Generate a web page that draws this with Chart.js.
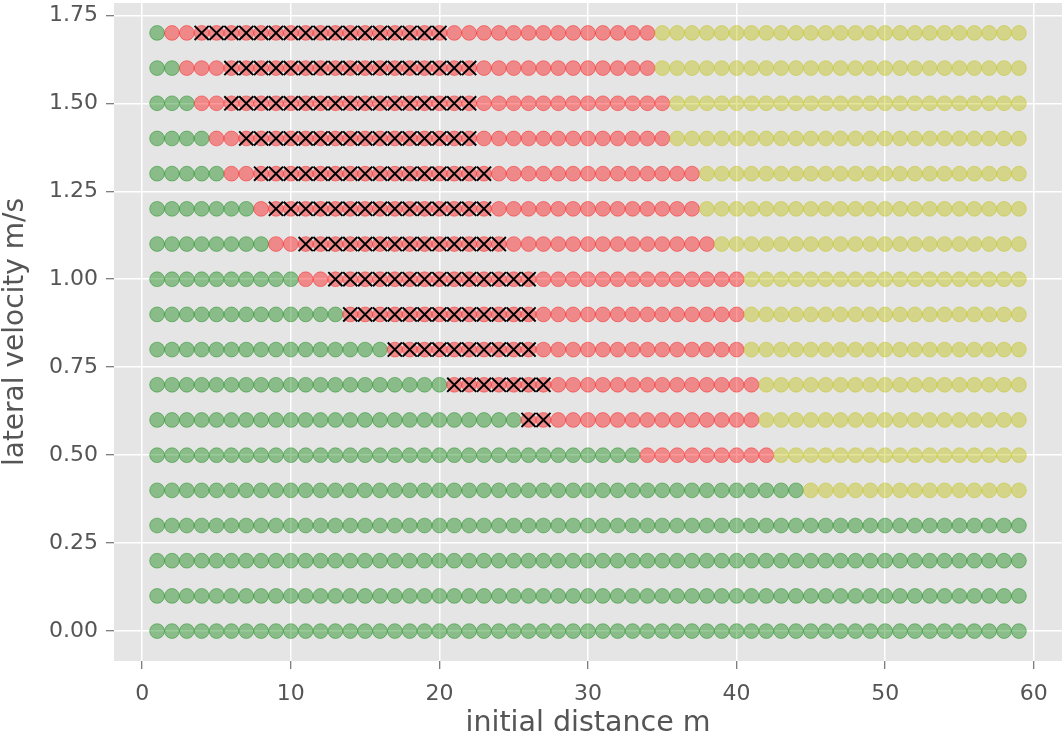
<!DOCTYPE html>
<html>
<head>
<meta charset="utf-8">
<script src="https://cdn.jsdelivr.net/npm/chart.js@4/dist/chart.umd.min.js"></script>
<style>
  html, body { margin: 0; padding: 0; background: #ffffff; }
  #wrap { width: 1062px; height: 738px; }
</style>
</head>
<body>
<div id="wrap"><canvas id="chart" width="1062" height="738"></canvas></div>
<script>
// initial distances (x) and lateral velocity rows (y)
const distances = [1, 2, 3, 4, 5, 6, 7, 8, 9, 10, 11, 12, 13, 14, 15, 16, 17, 18, 19, 20,
  21, 22, 23, 24, 25, 26, 27, 28, 29, 30, 31, 32, 33, 34, 35, 36, 37, 38, 39, 40,
  41, 42, 43, 44, 45, 46, 47, 48, 49, 50, 51, 52, 53, 54, 55, 56, 57, 58, 59];
const velocities = [0.0, 0.1, 0.2, 0.3, 0.4, 0.5, 0.6, 0.7, 0.8, 0.9, 1.0, 1.1, 1.2, 1.3, 1.4, 1.5, 1.6, 1.7];

// per velocity row: last green distance, last red distance (yellow after), crossed range
const greenEnd = [59, 59, 59, 59, 44, 33, 25, 20, 16, 13, 10, 8, 7, 5, 4, 3, 2, 1];
const redEnd = [59, 59, 59, 59, 44, 42, 41, 41, 40, 40, 40, 38, 37, 37, 35, 35, 34, 34];
const crossStart = [0, 0, 0, 0, 0, 0, 26, 21, 17, 14, 13, 11, 9, 8, 7, 6, 6, 4];
const crossEnd = [0, 0, 0, 0, 0, 0, 27, 27, 26, 26, 26, 24, 23, 23, 22, 22, 22, 20];

// axis ticks
const xTicks = [0, 10, 20, 30, 40, 50, 60];
const yTicks = [0, 0.25, 0.5, 0.75, 1.0, 1.25, 1.5, 1.75];

const greenPts = [];
const redPts = [];
const yellowPts = [];
const crossPts = [];

velocities.forEach((v, i) => {
  distances.forEach(d => {
    const p = { x: d, y: v };
    if (d <= greenEnd[i]) {
      greenPts.push(p);
    } else if (d <= redEnd[i]) {
      redPts.push(p);
    } else {
      yellowPts.push(p);
    }
    if (crossStart[i] > 0 && d >= crossStart[i] && d <= crossEnd[i]) {
      crossPts.push(p);
    }
  });
});

function dotSet(data, color, order) {
  return {
    data: data,
    backgroundColor: color,
    borderColor: color,
    borderWidth: 1,
    pointRadius: 7.4,
    pointHoverRadius: 7.4,
    order: order
  };
}

const textColor = '#555555';
const fontFamily = '"DejaVu Sans", sans-serif';

// drop the extra room Chart.js keeps for overflowing tick labels
function noLabelPadding(scale) {
  scale.paddingTop = 0;
  scale.paddingBottom = 0;
  scale.paddingLeft = 0;
  scale.paddingRight = 0;
}

new Chart(document.getElementById('chart').getContext('2d'), {
  type: 'scatter',
  data: {
    datasets: [
      {
        data: crossPts,
        pointStyle: 'crossRot',
        pointRadius: 10,
        pointHoverRadius: 10,
        borderColor: '#000000',
        backgroundColor: '#000000',
        borderWidth: 2,
        order: 0
      },
      dotSet(yellowPts, 'rgba(191, 191, 0, 0.4)', 1),
      dotSet(redPts, 'rgba(255, 0, 0, 0.4)', 2),
      dotSet(greenPts, 'rgba(0, 128, 0, 0.4)', 3)
    ]
  },
  options: {
    responsive: false,
    animation: false,
    events: [],
    layout: { autoPadding: false, padding: { top: 3, right: 0, bottom: 0, left: 0 } },
    plugins: {
      legend: { display: false },
      tooltip: { enabled: false }
    },
    scales: {
      x: {
        type: 'linear',
        min: -1.9,
        max: 61.9,
        afterBuildTicks: (scale) => { scale.ticks = xTicks.map(v => ({ value: v })); },
        afterFit: (scale) => { scale.height = 77; noLabelPadding(scale); },
        border: { display: false },
        grid: { color: '#ffffff', lineWidth: 1.5, tickColor: textColor, tickLength: 8, tickWidth: 1 },
        ticks: { color: textColor, font: { family: fontFamily, size: 22 }, padding: 12, maxRotation: 0 },
        title: {
          display: true,
          text: 'initial distance m',
          color: textColor,
          font: { family: fontFamily, size: 28.5, lineHeight: 1 },
          padding: { top: 0, bottom: 0 }
        }
      },
      y: {
        type: 'linear',
        min: -0.085,
        max: 1.785,
        afterBuildTicks: (scale) => { scale.ticks = yTicks.map(v => ({ value: v })); },
        afterFit: (scale) => { scale.width = 114; noLabelPadding(scale); },
        border: { display: false },
        grid: { color: '#ffffff', lineWidth: 1.5, tickColor: textColor, tickLength: 8, tickWidth: 1 },
        ticks: {
          color: textColor,
          font: { family: fontFamily, size: 22 },
          padding: 8,
          callback: (v) => Number(v).toFixed(2)
        },
        title: {
          display: true,
          text: 'lateral velocity m/s',
          color: textColor,
          font: { family: fontFamily, size: 28, lineHeight: 1 },
          padding: { top: 2, bottom: 0 }
        }
      }
    }
  },
  plugins: [{
    id: 'plotBackground',
    beforeDraw(chart) {
      const { ctx, chartArea } = chart;
      ctx.save();
      ctx.fillStyle = '#e5e5e5';
      ctx.fillRect(chartArea.left, chartArea.top, chartArea.right - chartArea.left, chartArea.bottom - chartArea.top);
      ctx.restore();
    }
  }]
});
</script>
</body>
</html>
